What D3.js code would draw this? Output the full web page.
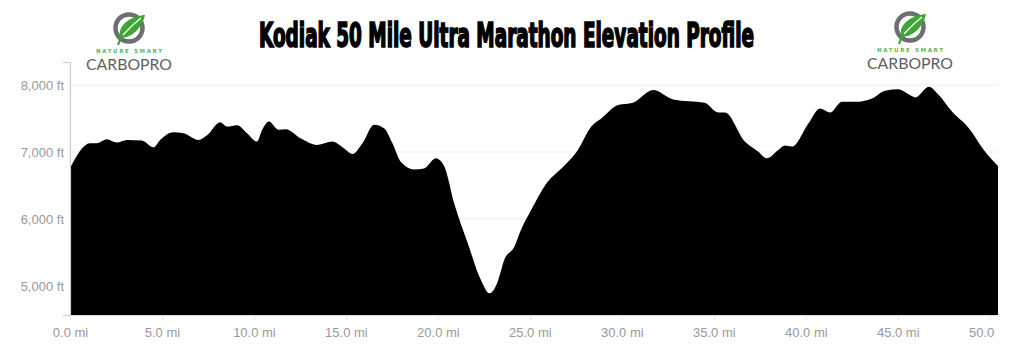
<!DOCTYPE html>
<html>
<head>
<meta charset="utf-8">
<script src="https://d3js.org/d3.v7.min.js"></script>
<style>
  html, body { margin: 0; padding: 0; background: #fff; }
  svg { display: block; }
</style>
</head>
<body>
<svg id="chart" width="1024" height="362"></svg>
<script>
// Elevation profile (miles, feet)
const distances = [0, 1.09, 1.45, 2.0, 2.54, 3.09, 3.91, 4.54, 4.9, 5.63, 6.17, 6.99, 7.45, 8.17, 8.54, 9.08, 9.63,
  10.17, 10.45, 10.81, 11.35, 11.72, 12.53, 13.44, 14.26, 14.89, 15.35, 15.9, 16.53, 17.07, 17.53, 17.98, 18.71,
  19.25, 19.89, 20.34, 20.89, 21.62, 22.34, 22.8, 23.25, 23.61, 24.16, 24.52, 25.07, 25.98, 26.7, 27.61, 28.34,
  28.88, 29.79, 30.61, 31.7, 32.79, 34.51, 35.24, 35.6, 36.69, 37.42, 37.87, 38.51, 38.87, 39.24, 40.15, 40.78,
  41.33, 41.96, 42.69, 43.6, 44.32, 45.05, 45.5, 45.96, 46.69, 47.23, 47.96, 48.87, 49.68, 50.45];
const elevations = [6760, 7130, 7130, 7190, 7140, 7180, 7170, 7070, 7180, 7295, 7280, 7180, 7250, 7445, 7380, 7400, 7280,
  7155, 7330, 7455, 7330, 7340, 7205, 7105, 7155, 7055, 6970, 7130, 7405, 7355, 7130, 6855, 6740,
  6755, 6905, 6790, 6230, 5640, 5090, 4890, 5065, 5390, 5590, 5840, 6135, 6560, 6750, 7030, 7380,
  7500, 7700, 7735, 7925, 7785, 7735, 7590, 7590, 7155, 7005, 6905, 7030, 7095, 7080, 7430, 7650,
  7590, 7750, 7750, 7800, 7915, 7935, 7875, 7815, 7975, 7850, 7600, 7355, 7030, 6790];

const xTicks = [0, 5, 10, 15, 20, 25, 30, 35, 40, 45, 50];
const yTicks = [5000, 6000, 7000, 8000];
const title = 'Kodiak 50 Mile Ultra Marathon Elevation Profile';

const svg = d3.select('#chart');
const plot = { left: 70, right: 998, top: 62, bottom: 315 };

const x = d3.scaleLinear().domain([0, 50.45]).range([plot.left, plot.right]);
const y = d3.scaleLinear().domain([4567, 8343]).range([plot.bottom, plot.top]);

const points = distances.map((d, i) => ({ d, e: elevations[i] }));

// Clip for the x labels (50.0 mi label is cut at the right edge)
const defs = svg.append('defs');
defs.append('clipPath').attr('id', 'clip')
  .append('rect').attr('x', 0).attr('y', 0).attr('width', 996).attr('height', 362);

// Gridlines
svg.append('g')
  .selectAll('line')
  .data(yTicks)
  .join('line')
  .attr('x1', plot.left).attr('x2', plot.right)
  .attr('y1', d => y(d)).attr('y2', d => y(d))
  .attr('stroke', '#eeeeee')
  .attr('stroke-width', 1);

// Area
const area = d3.area()
  .x(p => x(p.d))
  .y0(plot.bottom)
  .y1(p => y(p.e))
  .curve(d3.curveMonotoneX);

svg.append('path')
  .datum(points)
  .attr('d', area)
  .attr('fill', '#000');

// Y axis
const yAxis = svg.append('g')
  .attr('transform', `translate(${plot.left},0)`)
  .call(d3.axisLeft(y).tickValues(yTicks).tickSize(0).tickPadding(6)
    .tickFormat(d => d3.format(',')(d) + ' ft'));
yAxis.select('.domain').remove();
yAxis.selectAll('text')
  .attr('font-family', 'Liberation Sans, Arial, sans-serif')
  .attr('font-size', 13)
  .attr('fill', '#999');

svg.append('path')
  .attr('d', `M${plot.left - 7},${plot.top + 0.5}H${plot.left + 0.5}V${plot.bottom + 0.5}H${plot.left - 7}`)
  .attr('fill', 'none')
  .attr('stroke', '#cccccc')
  .attr('stroke-width', 1.2);

// X axis
const xAxis = svg.append('g')
  .attr('clip-path', 'url(#clip)')
  .attr('transform', `translate(0,${plot.bottom})`)
  .call(d3.axisBottom(x).tickValues(xTicks).tickSize(5).tickPadding(8)
    .tickFormat(d => d3.format('.1f')(d) + ' mi'));
xAxis.select('.domain').attr('stroke', '#dddddd');
xAxis.selectAll('.tick line').attr('stroke', '#e4e4e4');
xAxis.selectAll('text')
  .attr('font-family', 'Liberation Sans, Arial, sans-serif')
  .attr('font-size', 13)
  .attr('fill', '#999');

// Title
svg.append('text')
  .attr('x', 506.5)
  .attr('y', 47)
  .attr('text-anchor', 'middle')
  .attr('font-family', 'Liberation Sans Narrow, DejaVu Sans Condensed, sans-serif')
  .attr('font-weight', 'bold')
  .attr('font-size', 33)
  .attr('textLength', 495)
  .attr('lengthAdjust', 'spacingAndGlyphs')
  .attr('fill', '#000')
  .attr('stroke', '#000')
  .attr('stroke-width', 1.7)
  .text(title);

// CarboPro logos
function drawLogo(cx, cy) {
  const g = svg.append('g').attr('transform', `translate(${cx},${cy})`);
  g.append('circle').attr('r', 13.5)
    .attr('fill', 'none').attr('stroke', '#6d6e70').attr('stroke-width', 4.5);
  g.append('path')
    .attr('d', 'M-9,10 C-12,-3 2,-12 16,-13 C13,0 3,10 -9,10 Z')
    .attr('fill', '#3fa535');
  g.append('path')
    .attr('d', 'M-8,9 L-11,17')
    .attr('stroke', '#3fa535').attr('stroke-width', 2.2).attr('fill', 'none');
  g.append('path')
    .attr('d', 'M-6,7 Q3,-3 12,-10')
    .attr('stroke', '#fff').attr('stroke-width', 1.3).attr('fill', 'none');
  g.append('text')
    .attr('x', 0).attr('y', 25)
    .attr('text-anchor', 'middle')
    .attr('font-family', 'DejaVu Sans, sans-serif')
    .attr('font-weight', 'bold')
    .attr('font-size', 5.5)
    .attr('textLength', 66)
    .attr('lengthAdjust', 'spacing')
    .attr('fill', '#5cb85c')
    .text('NATURE SMART');
  g.append('text')
    .attr('x', 0).attr('y', 42)
    .attr('text-anchor', 'middle')
    .attr('font-family', 'Lato, sans-serif')
    .attr('font-size', 15.5)
    .attr('textLength', 86)
    .attr('lengthAdjust', 'spacingAndGlyphs')
    .attr('fill', '#5f6062')
    .text('CARBOPRO');
}
drawLogo(129, 28);
drawLogo(910, 27);
</script>
</body>
</html>
